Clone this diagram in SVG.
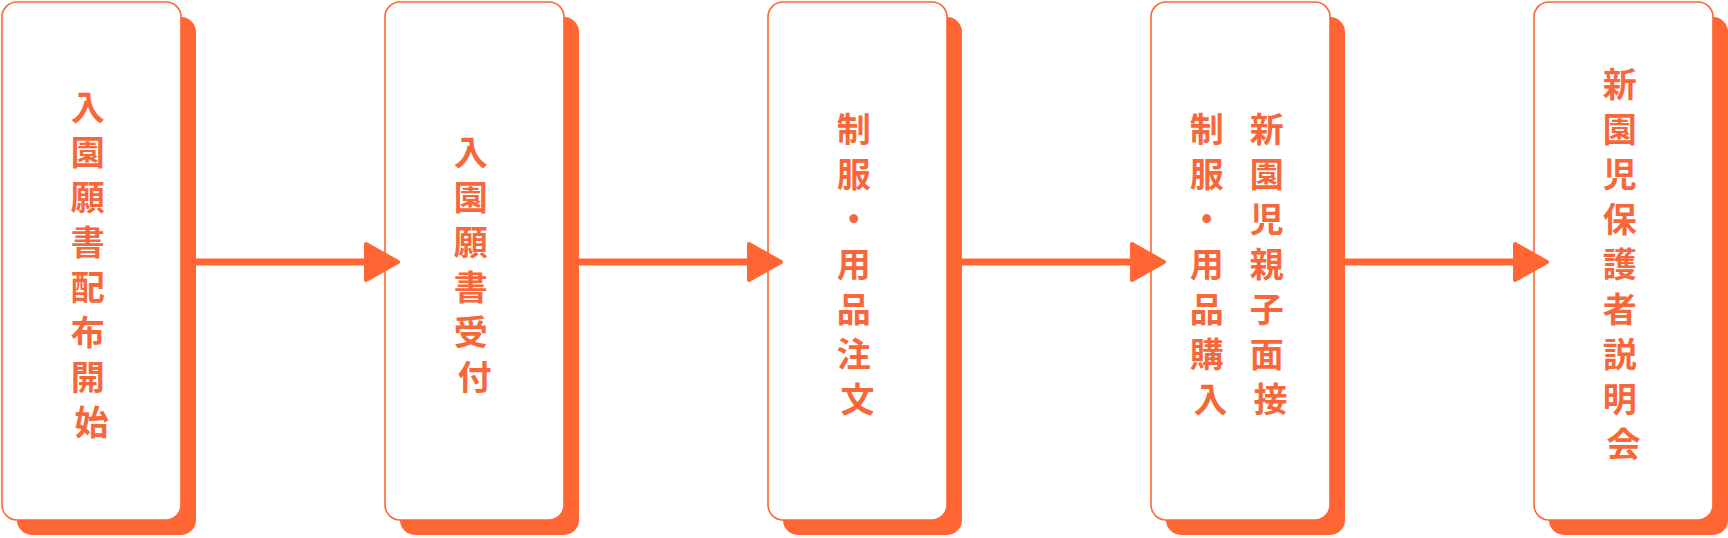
<svg xmlns="http://www.w3.org/2000/svg" width="1728" height="538" viewBox="0 0 1728 538">
  <defs>
    <style>
      .shadow { fill: #FF6633; }
      .box { fill: #FFFFFF; stroke: #FF6633; stroke-width: 1.6; }
      .label { font-family: "Noto Sans CJK JP", "Noto Sans CJK SC", sans-serif; font-size: 34px; font-weight: 600; fill: #F8673A; text-anchor: middle; dominant-baseline: central; }
      .conn { stroke: #FF6633; stroke-width: 7; fill: none; }
    </style>
    <marker id="arrow" markerUnits="userSpaceOnUse" markerWidth="44" markerHeight="46" refX="16" refY="22" orient="auto" overflow="visible">
      <path d="M2,4 L34,22 L2,40 Z" fill="#FF6633" stroke="#FF6633" stroke-width="4" stroke-linejoin="round"/>
    </marker>
  </defs>
  <rect width="1728" height="538" fill="#FFFFFF"/>

  <g id="node1">
    <rect class="shadow" x="17" y="17" width="179" height="518" rx="15"/>
    <rect class="box" x="2" y="2" width="179" height="518" rx="15"/>
    <text class="label">
      <tspan x="91.5" y="104.5">入</tspan>
      <tspan x="91.5" y="149.5">園</tspan>
      <tspan x="91.5" y="194.5">願</tspan>
      <tspan x="91.5" y="239.5">書</tspan>
      <tspan x="91.5" y="284.5">配</tspan>
      <tspan x="91.5" y="329.5">布</tspan>
      <tspan x="91.5" y="374.5">開</tspan>
      <tspan x="91.5" y="419.5">始</tspan>
    </text>
  </g>

  <g id="node2">
    <rect class="shadow" x="400" y="17" width="179" height="518" rx="15"/>
    <rect class="box" x="385" y="2" width="179" height="518" rx="15"/>
    <text class="label">
      <tspan x="474.5" y="149.5">入</tspan>
      <tspan x="474.5" y="194.5">園</tspan>
      <tspan x="474.5" y="239.5">願</tspan>
      <tspan x="474.5" y="284.5">書</tspan>
      <tspan x="474.5" y="329.5">受</tspan>
      <tspan x="474.5" y="374.5">付</tspan>
    </text>
  </g>

  <g id="node3">
    <rect class="shadow" x="783" y="17" width="179" height="518" rx="15"/>
    <rect class="box" x="768" y="2" width="179" height="518" rx="15"/>
    <text class="label">
      <tspan x="857.5" y="127">制</tspan>
      <tspan x="857.5" y="172">服</tspan>
      <tspan x="857.5" y="217">・</tspan>
      <tspan x="857.5" y="262">用</tspan>
      <tspan x="857.5" y="307">品</tspan>
      <tspan x="857.5" y="352">注</tspan>
      <tspan x="857.5" y="397">文</tspan>
    </text>
  </g>

  <g id="node4">
    <rect class="shadow" x="1166" y="17" width="179" height="518" rx="15"/>
    <rect class="box" x="1151" y="2" width="179" height="518" rx="15"/>
    <text class="label">
      <tspan x="1270.5" y="127">新</tspan>
      <tspan x="1270.5" y="172">園</tspan>
      <tspan x="1270.5" y="217">児</tspan>
      <tspan x="1270.5" y="262">親</tspan>
      <tspan x="1270.5" y="307">子</tspan>
      <tspan x="1270.5" y="352">面</tspan>
      <tspan x="1270.5" y="397">接</tspan>
    </text>
    <text class="label">
      <tspan x="1210.5" y="127">制</tspan>
      <tspan x="1210.5" y="172">服</tspan>
      <tspan x="1210.5" y="217">・</tspan>
      <tspan x="1210.5" y="262">用</tspan>
      <tspan x="1210.5" y="307">品</tspan>
      <tspan x="1210.5" y="352">購</tspan>
      <tspan x="1210.5" y="397">入</tspan>
    </text>
  </g>

  <g id="node5">
    <rect class="shadow" x="1549" y="17" width="179" height="518" rx="15"/>
    <rect class="box" x="1534" y="2" width="179" height="518" rx="15"/>
    <text class="label">
      <tspan x="1623.5" y="82">新</tspan>
      <tspan x="1623.5" y="127">園</tspan>
      <tspan x="1623.5" y="172">児</tspan>
      <tspan x="1623.5" y="217">保</tspan>
      <tspan x="1623.5" y="262">護</tspan>
      <tspan x="1623.5" y="307">者</tspan>
      <tspan x="1623.5" y="352">説</tspan>
      <tspan x="1623.5" y="397">明</tspan>
      <tspan x="1623.5" y="442">会</tspan>
    </text>
  </g>

  <g id="connectors">
    <path class="conn" d="M196,262 H380" marker-end="url(#arrow)"/>
    <path class="conn" d="M579,262 H763" marker-end="url(#arrow)"/>
    <path class="conn" d="M962,262 H1146" marker-end="url(#arrow)"/>
    <path class="conn" d="M1345,262 H1529" marker-end="url(#arrow)"/>
  </g>
</svg>
